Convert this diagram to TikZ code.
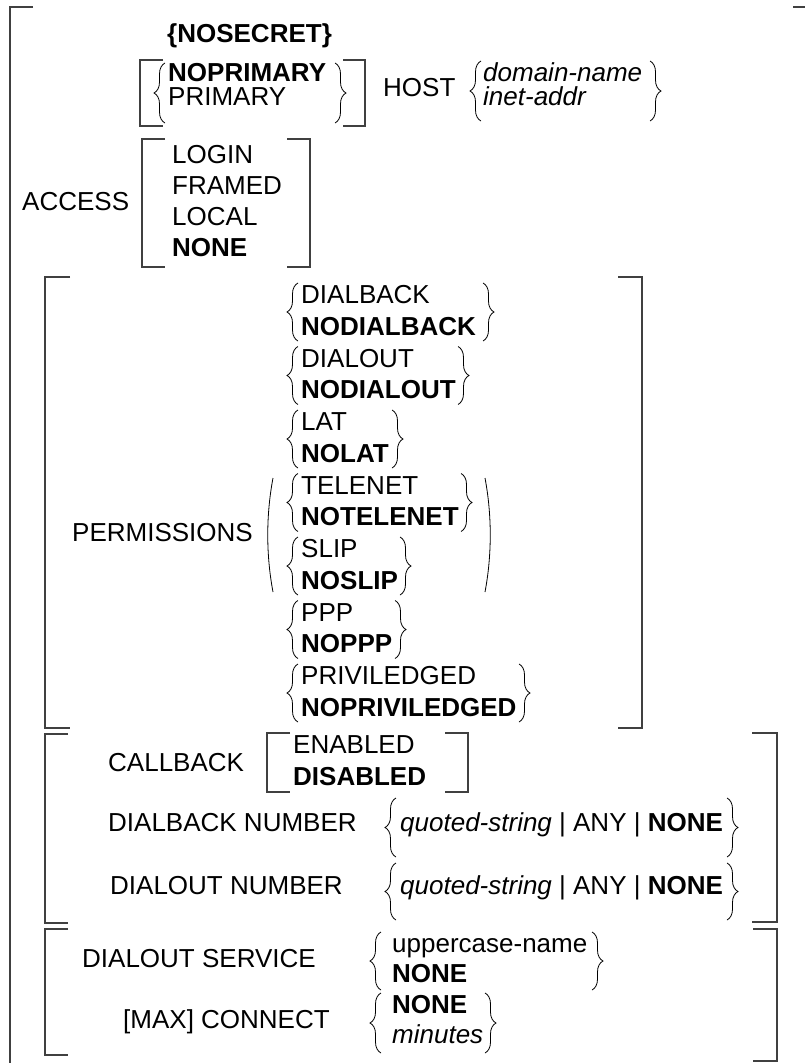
\documentclass[tikz,border=0pt]{standalone}
\usepackage{fontspec}
\setmainfont{Liberation Sans}
\usetikzlibrary{decorations.pathreplacing}
\begin{document}
\begin{tikzpicture}[x=1pt, y=-1pt, font=\fontsize{26}{31}\selectfont,
        word/.style={anchor=base west, inner sep=0pt},
        brk/.style={draw=black!75, line width=1.6pt},
        curly/.style={decorate, decoration={brace, amplitude=11pt}, line width=0.8pt}]
        \useasboundingbox (0,0) rectangle (805,1063);

        \node[word] (nosecret) at (167,42) {\textbf{\{NOSECRET\}}};
        \node[word] (noprimary) at (168,81) {\textbf{NOPRIMARY}};
        \node[word] (primary) at (168,105) {PRIMARY};
        \node[word] (host) at (383,96) {HOST};
        \node[word] (domain) at (483,81) {\textit{domain-name}};
        \node[word] (inet) at (483,105) {\textit{inet-addr}};

        \node[word] (access) at (22,210) {ACCESS};
        \node[word] (login) at (172,163) {LOGIN};
        \node[word] (framed) at (172,194) {FRAMED};
        \node[word] (local) at (172,225) {LOCAL};
        \node[word] (none) at (172,256) {\textbf{NONE}};

        \node[word] (perm) at (72,541) {PERMISSIONS};
        \node[word] (dialback) at (301,303.5) {DIALBACK};
        \node[word] (nodialback) at (301,335.25) {\textbf{NODIALBACK}};
        \node[word] (dialout) at (301,367) {DIALOUT};
        \node[word] (nodialout) at (301,398.75) {\textbf{NODIALOUT}};
        \node[word] (lat) at (301,430.5) {LAT};
        \node[word] (nolat) at (301,462.25) {\textbf{NOLAT}};
        \node[word] (telenet) at (301,494) {TELENET};
        \node[word] (notelenet) at (301,525.75) {\textbf{NOTELENET}};
        \node[word] (slip) at (301,557.5) {SLIP};
        \node[word] (noslip) at (301,589.25) {\textbf{NOSLIP}};
        \node[word] (ppp) at (301,621) {PPP};
        \node[word] (noppp) at (301,652.75) {\textbf{NOPPP}};
        \node[word] (priv) at (301,684.5) {PRIVILEDGED};
        \node[word] (nopriv) at (301,716.25) {\textbf{NOPRIVILEDGED}};

        \node[word] (callback) at (108,771) {CALLBACK};
        \node[word] (enabled) at (293,753) {ENABLED};
        \node[word] (disabled) at (293,785) {\textbf{DISABLED}};
        \node[word] (dbnumber) at (108,831) {DIALBACK NUMBER};
        \node[word] (dbvalue) at (400,831) {\textit{quoted-string} | ANY | \textbf{NONE}};
        \node[word] (donumber) at (110,894) {DIALOUT NUMBER};
        \node[word] (dovalue) at (400,894) {\textit{quoted-string} | ANY | \textbf{NONE}};

        \node[word] (service) at (82,967) {DIALOUT SERVICE};
        \node[word] (upname) at (392,952) {uppercase-name};
        \node[word] (svnone) at (392,982) {\textbf{NONE}};
        \node[word] (connect) at (123,1028) {[MAX] CONNECT};
        \node[word] (cnnone) at (392,1013) {\textbf{NONE}};
        \node[word] (minutes) at (392,1043) {\textit{minutes}};

        \draw[brk] (33,7) -- (10,7) -- (10,1063);
        \draw[brk] (793,7) -- (805,7);
        \draw[brk] (163,60) -- (140,60) -- (140,126) -- (163,126);
        \draw[brk] (343,60) -- (365,60) -- (365,126) -- (343,126);
        \draw[brk] (165,139) -- (142,139) -- (142,267) -- (165,267);
        \draw[brk] (287,139) -- (310,139) -- (310,267) -- (287,267);
        \draw[brk] (70,277) -- (45,277) -- (45,728) -- (70,728);
        \draw[brk] (618,277) -- (642,277) -- (642,728) -- (618,728);
        \draw[brk] (68,734) -- (45,734) -- (45,923) -- (68,923);
        \draw[brk] (752,733) -- (777,733) -- (777,922) -- (752,922);
        \draw[brk] (290,733) -- (267,733) -- (267,792) -- (290,792);
        \draw[brk] (445,733) -- (468,733) -- (468,792) -- (445,792);
        \draw[brk] (68,929) -- (45,929) -- (45,1055) -- (68,1055);
        \draw[brk] (753,929) -- (777,929) -- (777,1061) -- (753,1061);

        \draw[curly] (165,123) -- (165,63);
        \draw[curly] (335,63) -- (335,123);
        \draw[curly] (481,121) -- (481,61);
        \draw[curly] (650,61) -- (650,121);

        \draw[curly] (298,341) -- (298,283);
        \draw[curly] (483,283) -- (483,341);
        \draw[curly] (298,404.5) -- (298,346.5);
        \draw[curly] (458,346.5) -- (458,404.5);
        \draw[curly] (298,468) -- (298,410);
        \draw[curly] (392,410) -- (392,468);
        \draw[curly] (298,531.5) -- (298,473.5);
        \draw[curly] (461,473.5) -- (461,531.5);
        \draw[curly] (298,595) -- (298,537);
        \draw[curly] (400,537) -- (400,595);
        \draw[curly] (298,658.5) -- (298,600.5);
        \draw[curly] (395,600.5) -- (395,658.5);
        \draw[curly] (298,722) -- (298,664);
        \draw[curly] (519,664) -- (519,722);
        \draw[line width=0.8pt] (273,478) .. controls (266,515) and (266,555) .. (273,592);
        \draw[line width=0.8pt] (485,478) .. controls (492,515) and (492,555) .. (485,592);

        \draw[curly] (396,857) -- (396,798);
        \draw[curly] (727,798) -- (727,857);
        \draw[curly] (396,920) -- (396,863);
        \draw[curly] (727,863) -- (727,920);

        \draw[curly] (381,990) -- (381,932);
        \draw[curly] (592,932) -- (592,990);
        \draw[curly] (381,1053) -- (381,993);
        \draw[curly] (485,993) -- (485,1053);
    \end{tikzpicture}
\end{document}
